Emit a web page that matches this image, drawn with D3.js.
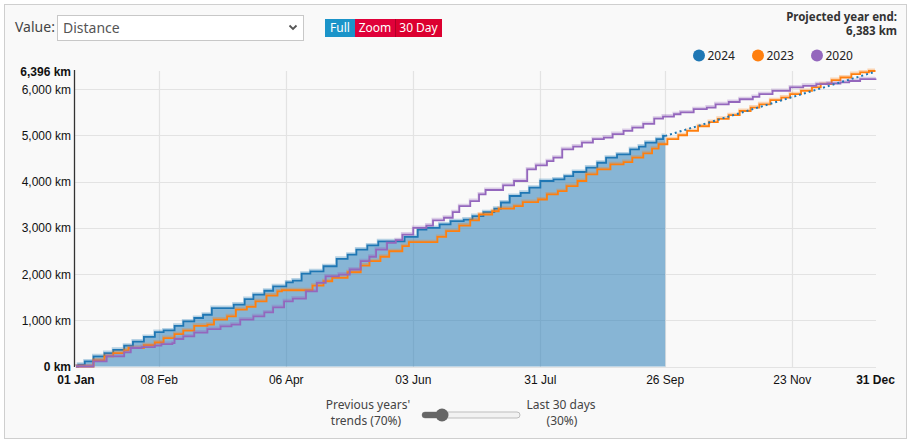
<!DOCTYPE html>
<html><head><meta charset="utf-8">
<script src="https://cdn.jsdelivr.net/npm/d3@7"></script>
<style>body{margin:0;background:#fff;}svg{display:block}</style>
</head><body><svg id="c" width="911" height="442"></svg>
<script>
// ---- data (day of year offset from 01 Jan, cumulative km) ----
const days2024 = [0,1,4,8,13,17,22,26,31,36,40,45,49,54,58,62,72,77,81,86,90,96,99,103,107,113,119,124,128,133,138,150,156,160,166,171,177,181,186,191,194,198,203,207,212,218,223,227,233,238,242,247,253,257,260,265,268,269];
const km2024   = [0,40,110,220,290,360,450,540,640,745,780,880,975,1050,1120,1265,1340,1460,1555,1640,1735,1820,1860,2010,2060,2170,2330,2420,2530,2620,2710,2805,2965,3000,3075,3145,3180,3255,3340,3415,3550,3690,3760,3870,4015,4050,4120,4210,4305,4410,4520,4590,4700,4760,4845,4920,4990,4990];
const days2023 = [0,8,13,17,22,24,31,36,40,45,49,54,60,63,69,73,78,82,87,92,94,108,113,117,124,130,134,139,143,149,152,165,169,175,180,184,190,193,200,204,211,215,220,224,229,233,238,244,250,254,259,263,266,270,275,279,284,289,293,298,303,308,312,317,322,326,331,336,340,345,349,354,358,362,365];
const km2023   = [0,130,220,290,350,400,460,520,615,700,775,880,905,1015,1085,1230,1290,1410,1535,1625,1650,1750,1845,1920,2040,2185,2280,2375,2495,2605,2690,2805,2930,3050,3165,3290,3360,3415,3470,3560,3615,3725,3795,3905,4015,4160,4265,4375,4425,4520,4615,4715,4810,4920,5005,5100,5200,5290,5360,5440,5530,5605,5675,5765,5820,5895,5965,6040,6110,6200,6255,6330,6365,6396,6396];
const days2020 = [0,8,14,22,25,30,36,39,44,45,49,54,60,66,71,75,81,86,90,95,99,105,110,114,120,125,130,134,137,142,146,149,154,160,163,168,172,175,180,184,187,195,200,206,210,215,218,222,227,231,236,241,245,250,254,259,264,268,273,276,282,288,292,298,303,309,312,318,326,332,338,343,349,353,358,365];
const km2020   = [0,110,220,305,400,420,450,485,505,595,650,735,810,870,905,1015,1085,1170,1280,1410,1470,1625,1810,1950,1990,2100,2280,2375,2530,2675,2735,2855,3000,3050,3165,3220,3340,3470,3580,3725,3820,3920,4015,4265,4355,4445,4520,4700,4760,4845,4920,4955,5030,5100,5170,5250,5365,5410,5460,5500,5570,5605,5675,5725,5785,5835,5895,5965,6040,6075,6110,6125,6150,6180,6220,6235];
const projDays = [269, 365];
const projKm   = [4990, 6383];
const seriesNames  = ["2024","2023","2020"];
const seriesColors = ["#1f77b4","#ff7f0e","#9467bd"];
const xTickDates  = ["2024-01-01","2024-02-08","2024-04-06","2024-06-03","2024-07-31","2024-09-26","2024-11-23","2024-12-31"];
const xTickLabels = ["01 Jan","08 Feb","06 Apr","03 Jun","31 Jul","26 Sep","23 Nov","31 Dec"];
const yTicks = [0,1000,2000,3000,4000,5000,6000];
const yMax = 6396;
const projectedYearEnd = "6,383 km";

// ---- drawing ----
const svg = d3.select("#c");
const start = new Date(Date.UTC(2024,0,1));
const dayDate = d => d3.utcDay.offset(start, d);
const x = d3.scaleUtc().domain([start, new Date(Date.UTC(2024,11,31))]).range([76, 875.5]);
const y = d3.scaleLinear().domain([0, yMax]).range([366.5, 71]);
const fmt = d3.format(",");
const AX = "'Liberation Sans', Arial, sans-serif";
const UI = "'Noto Sans', 'Open Sans', sans-serif";

// frame
svg.append("rect").attr("x",4.5).attr("y",4.5).attr("width",902).attr("height",434)
  .attr("fill","#f9f9f9").attr("stroke","#cfcfcf");

// grid
const grid = svg.append("g");
grid.selectAll(".gy").data(yTicks).join("line")
  .attr("x1",75).attr("x2",876).attr("y1",d=>Math.round(y(d))+0.5).attr("y2",d=>Math.round(y(d))+0.5)
  .attr("stroke","#e3e3e3").attr("stroke-width",1.2);
const innerTicks = xTickDates.slice(1, -1).map(s => new Date(s+"T00:00:00Z"));
grid.selectAll(".gx").data(innerTicks).join("line")
  .attr("x1",d=>Math.round(x(d))+0.5).attr("x2",d=>Math.round(x(d))+0.5).attr("y1",71).attr("y2",367)
  .attr("stroke","#e3e3e3").attr("stroke-width",1.2);

// area 2024
const pts = (ds, ks) => ds.map((d,i)=>[dayDate(d), ks[i]]);
const p2024 = pts(days2024, km2024), p2023 = pts(days2023, km2023), p2020 = pts(days2020, km2020);
svg.append("path").datum(p2024)
  .attr("d", d3.area().curve(d3.curveStepAfter).x(d=>x(d[0])).y0(y(0)).y1(d=>y(d[1])))
  .attr("fill","#1f77b4").attr("fill-opacity",0.52);

// lines
const line = d3.line().curve(d3.curveStepAfter).x(d=>x(d[0])).y(d=>y(d[1]));
[[p2024,0],[p2023,1],[p2020,2]].forEach(([p,i])=>{
  svg.append("path").datum(p).attr("d",line).attr("fill","none")
    .attr("stroke",seriesColors[i]).attr("stroke-opacity",0.3).attr("stroke-width",2)
    .attr("transform","translate(-0.5,-1.5)");
  svg.append("path").datum(p).attr("d",line).attr("fill","none")
    .attr("stroke",seriesColors[i]).attr("stroke-width",1.8);
});
// projection
svg.append("path").datum(pts(projDays, projKm))
  .attr("d", d3.line().x(d=>x(d[0])).y(d=>y(d[1])))
  .attr("fill","none").attr("stroke","#1f77b4").attr("stroke-width",2).attr("stroke-dasharray","2,3");

// y axis
svg.append("line").attr("x1",74.5).attr("x2",74.5).attr("y1",70).attr("y2",367).attr("stroke","#333").attr("stroke-width",1.3);
const yLab = yTicks.concat([yMax]);
svg.selectAll(".yl").data(yLab).join("text")
  .attr("x",71).attr("y",d=>y(d)+4.5).attr("text-anchor","end")
  .attr("font-family",AX).attr("font-size",12).attr("fill","#111")
  .attr("font-weight",d=>(d===0||d===yMax)?"bold":"normal")
  .text(d=>fmt(d)+" km");
// x labels
svg.selectAll(".xl").data(xTickDates).join("text")
  .attr("x",d=>x(new Date(d+"T00:00:00Z"))).attr("y",384).attr("text-anchor","middle")
  .attr("font-family",AX).attr("font-size",12).attr("fill","#111")
  .attr("font-weight",(d,i)=>(i===0||i===xTickDates.length-1)?"bold":"normal")
  .text((d,i)=>xTickLabels[i]);

// legend
const legX = [699, 758, 817];
seriesNames.forEach((n,i)=>{
  svg.append("circle").attr("cx",legX[i]).attr("cy",55.5).attr("r",6).attr("fill",seriesColors[i]);
  svg.append("text").attr("x",legX[i]+8.5).attr("y",60).attr("font-family",UI).attr("font-size",12).attr("fill","#222").text(n);
});

// projected year end
svg.append("text").attr("x",897).attr("y",21).attr("text-anchor","end").attr("font-family",UI)
  .attr("font-size",11.5).attr("font-weight","bold").attr("fill","#333").text("Projected year end:");
svg.append("text").attr("x",897).attr("y",35).attr("text-anchor","end").attr("font-family",UI)
  .attr("font-size",11.5).attr("font-weight","bold").attr("fill","#333").text(projectedYearEnd);

// controls
svg.append("text").attr("x",15).attr("y",32).attr("font-family",UI).attr("font-size",14).attr("fill","#444").text("Value:");
svg.append("rect").attr("x",57.5).attr("y",15.5).attr("width",246).attr("height",25).attr("fill","#fff").attr("stroke","#c8c8c8");
svg.append("text").attr("x",63).attr("y",33).attr("font-family",UI).attr("font-size",14).attr("fill","#555").text("Distance");
svg.append("path").attr("d","M289.5,25.5 L293,29 L296.5,25.5").attr("fill","none").attr("stroke","#555").attr("stroke-width",1.8);
const btns = [["Full",325,355,"#1b94c9"],["Zoom",355,395,"#e0013a"],["30 Day",395,442,"#dc0030"]];
btns.forEach(([t,a,b,c])=>{
  svg.append("rect").attr("x",a).attr("y",19).attr("width",b-a).attr("height",18).attr("fill",c);
  svg.append("text").attr("x",(a+b)/2).attr("y",32).attr("text-anchor","middle").attr("font-family",UI)
    .attr("font-size",12).attr("fill","#fff").text(t);
});
svg.append("line").attr("x1",395.5).attr("x2",395.5).attr("y1",19).attr("y2",37).attr("stroke","#b00028");

// slider
const sl = [["Previous years'",368,409],["trends (70%)",366,425],["Last 30 days",561,409],["(30%)",562,425]];
sl.forEach(([t,cx,cy])=>svg.append("text").attr("x",cx).attr("y",cy).attr("text-anchor","middle")
  .attr("font-family",UI).attr("font-size",12).attr("fill","#444").text(t));
svg.append("rect").attr("x",422).attr("y",412).attr("width",98).attr("height",6).attr("rx",3)
  .attr("fill","#f2f2f2").attr("stroke","#bdbdbd");
svg.append("rect").attr("x",422).attr("y",412).attr("width",20).attr("height",6).attr("rx",3).attr("fill","#666");
svg.append("circle").attr("cx",442).attr("cy",415).attr("r",6.5).attr("fill","#666");
</script></body></html>
